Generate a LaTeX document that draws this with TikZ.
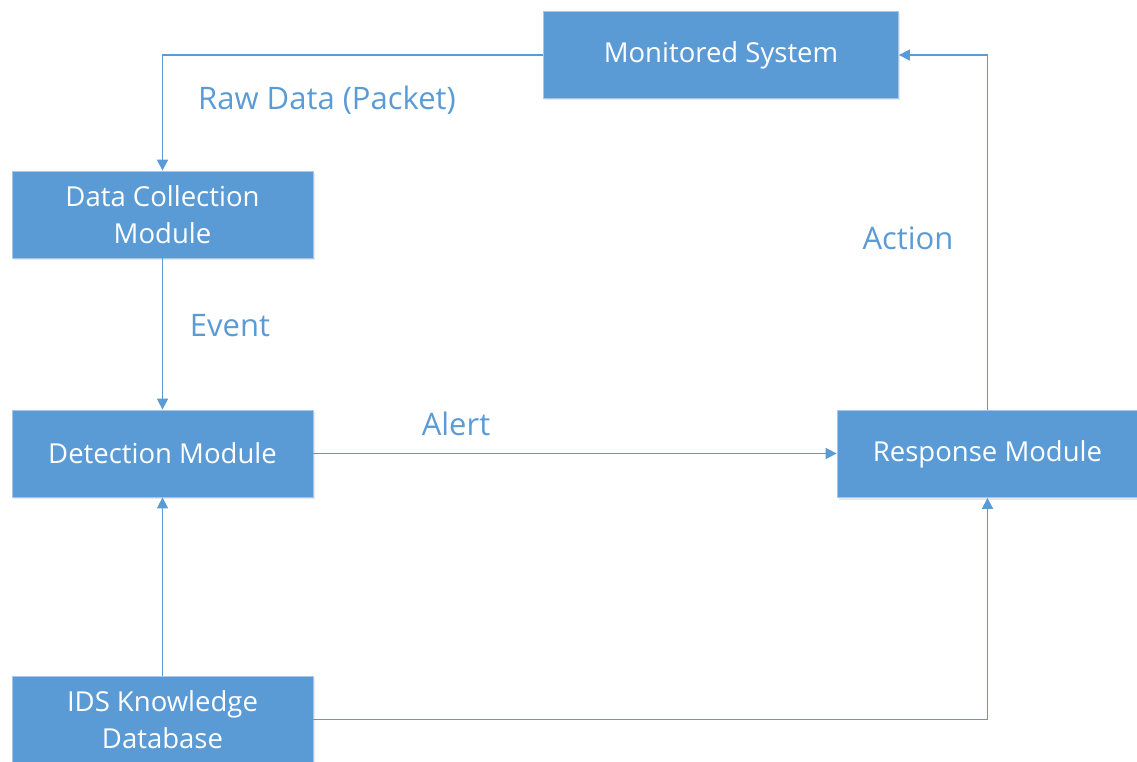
\documentclass[tikz,border=0pt]{standalone}
\usepackage{fontspec}
\setmainfont{Open Sans}
\usetikzlibrary{shadows,arrows.meta}
\definecolor{boxblue}{HTML}{5B9BD5}
\definecolor{boxedge}{HTML}{A9C6EA}
\tikzset{
  module/.style={draw=boxedge, line width=0.8pt, fill=boxblue, text=white,
    minimum width=301pt, minimum height=87pt, align=center, inner sep=0pt,
    font=\fontsize{27.5}{37}\selectfont,
    drop shadow={opacity=0.18, shadow xshift=1.5pt, shadow yshift=-2pt}},
  link/.style={draw=boxblue, line width=1.6pt, -{Triangle[length=11pt,width=11pt]}},
  tag/.style={text=boxblue, font=\fontsize{31}{36}\selectfont, inner sep=0pt}
}
\begin{document}
\begin{tikzpicture}[x=1pt,y=-1pt]
\useasboundingbox (0,0) rectangle (1137,762);
% modules
\node[module, minimum width=355pt] (mon) at (721,55) {Monitored System};
\node[module] (dcm) at (162.5,214.5) {Data Collection\\Module};
\node[module] (det) at (162.5,453.5) {Detection Module};
\node[module] (resp) at (987.5,454) {Response Module};
\node[module] (ids) at (162.5,719.5) {IDS Knowledge\\Database};
% data flow
\draw[link] (mon.west) -| (dcm.north);
\draw[link] (dcm.south) -- (det.north);
\draw[link] (det.east) -- (resp.west |- det.east);
\draw[link] (resp.north) |- (mon.east);
\draw[link] (ids.north) -- (det.south);
\draw[link] (ids.east) -| (resp.south);
% flow labels
\node[tag] (lraw) at (327,100) {Raw Data (Packet)};
\node[tag] (levent) at (230,326) {Event};
\node[tag] (lalert) at (456,424) {Alert};
\node[tag] (laction) at (908,238) {Action};
\end{tikzpicture}
\end{document}
